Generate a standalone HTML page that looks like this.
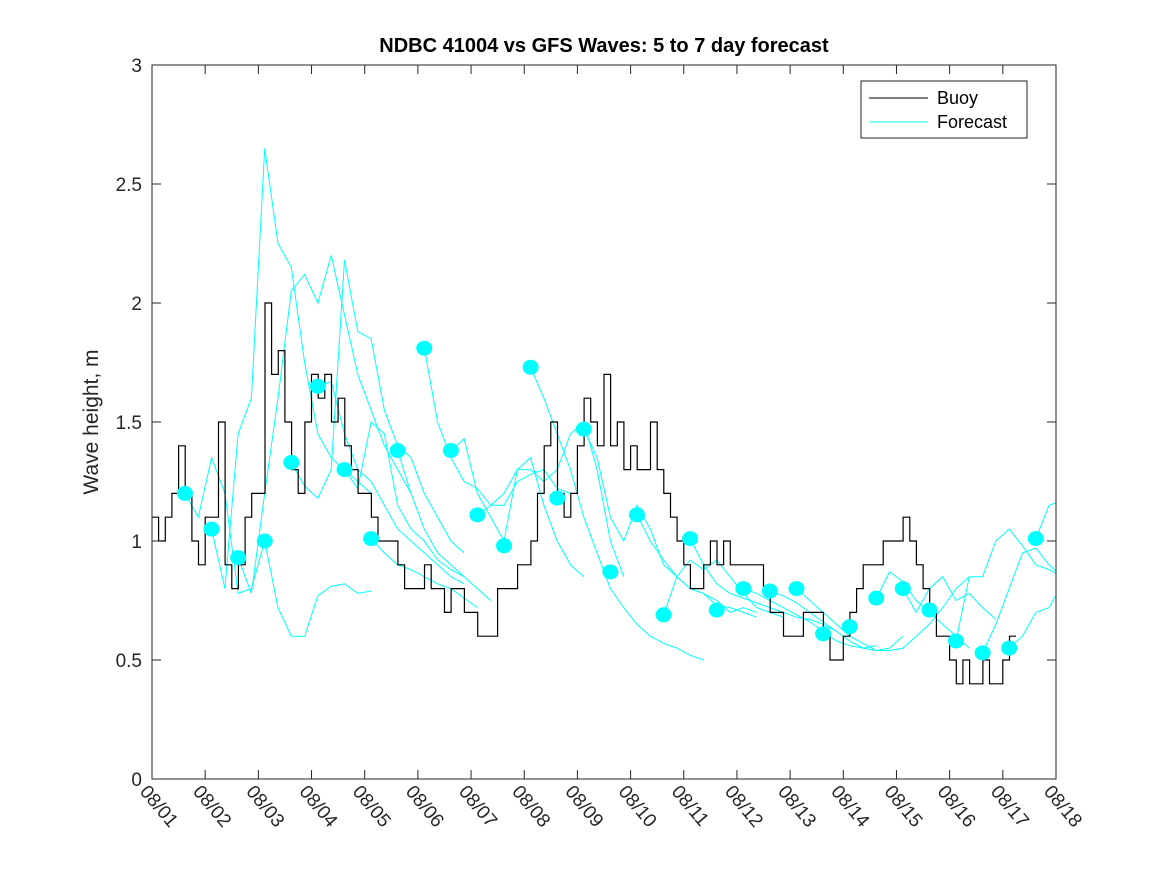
<!DOCTYPE html>
<html><head><meta charset="utf-8"><style>
body{margin:0;background:#fff;}
svg{display:block;font-family:"Liberation Sans","DejaVu Sans",sans-serif;}
</style></head><body>
<svg id="chart" width="1167" height="875" viewBox="0 0 1167 875" xmlns="http://www.w3.org/2000/svg">
<defs><clipPath id="pc"><rect x="152" y="65" width="904" height="714"/></clipPath></defs>
<rect width="1167" height="875" fill="#fff"/>
<text x="604" y="52" text-anchor="middle" font-size="20" font-weight="bold" fill="#000">NDBC 41004 vs GFS Waves: 5 to 7 day forecast</text>
<text transform="translate(98,422) rotate(-90)" text-anchor="middle" font-size="21" fill="#262626">Wave height, m</text>
<g id="plot" clip-path="url(#pc)"></g>
<g id="axes"></g>
<g>
<rect x="861" y="81" width="166" height="57" fill="#fff" stroke="#262626" stroke-width="1"/>
<line x1="869" y1="98" x2="928" y2="98" stroke="#000" stroke-width="1"/>
<text x="937" y="104" font-size="18" fill="#000">Buoy</text>
<line x1="869" y1="122" x2="928" y2="122" stroke="#00ffff" stroke-width="1"/>
<text x="937" y="128" font-size="18" fill="#000">Forecast</text>
</g>
</svg>
<script>
const xTickLabels=["08/01","08/02","08/03","08/04","08/05","08/06","08/07","08/08","08/09","08/10","08/11","08/12","08/13","08/14","08/15","08/16","08/17","08/18"];
const yTicks=[0,0.5,1,1.5,2,2.5,3];
const yTickLabels=["0","0.5","1","1.5","2","2.5","3"];
const buoyStep=0.125;
const buoyValues=[1.1,1.0,1.1,1.2,1.4,1.2,1.0,0.9,
1.1,1.1,1.5,0.9,0.8,0.9,1.1,1.2,
1.2,2.0,1.7,1.8,1.5,1.3,1.2,1.5,
1.7,1.6,1.7,1.5,1.6,1.4,1.3,1.2,
1.2,1.1,1.0,1.0,1.0,0.9,0.8,0.8,
0.8,0.9,0.8,0.8,0.7,0.8,0.8,0.7,
0.7,0.6,0.6,0.6,0.8,0.8,0.8,0.9,
0.9,1.0,1.2,1.4,1.5,1.2,1.1,1.2,
1.4,1.6,1.5,1.4,1.7,1.4,1.5,1.3,
1.4,1.3,1.3,1.5,1.3,1.2,1.1,1.0,
0.9,0.8,0.8,0.9,1.0,0.9,1.0,0.9,
0.9,0.9,0.9,0.9,0.8,0.7,0.7,0.6,
0.6,0.6,0.7,0.7,0.7,0.6,0.5,0.5,
0.6,0.7,0.8,0.9,0.9,0.9,1.0,1.0,
1.0,1.1,1.0,0.9,0.8,0.7,0.6,0.6,
0.5,0.4,0.5,0.4,0.4,0.5,0.4,0.4,
0.5,0.6];
const fcStep=0.25;
const fcStarts=[0.62,1.12,1.62,2.12,2.62,3.12,3.62,4.12,4.62,5.12,5.62,6.12,7.12,8.12,9.12,9.62,10.12,11.12,11.62,12.12,13.62,14.12,15.12,15.62,16.12,16.62];
const fcValues=[
[1.2,1.1,1.35,1.2,0.78,0.8,1.0],
[1.05,0.8,1.45,1.6,2.65,2.25,2.15,1.75,1.45,1.35,1.3,1.25,1.2],
[0.93,0.78,1.2,1.6,2.05,2.12,2.0,2.2,1.95,1.7,1.55,1.4,1.3,1.2],
[1.0,0.72,0.6,0.6,0.77,0.81,0.82,0.78,0.79],
[1.33,1.23,1.18,1.3,2.18,1.88,1.85,1.55,1.4,1.35,1.2,1.1,1.0,0.95],
[1.65,1.67,1.45,1.3,1.25,1.15,1.05,1.0,0.95,0.9,0.85,0.82],
[1.3,1.22,1.5,1.45,1.15,1.05,1.0,0.92,0.88,0.85],
[1.01,0.95,0.9,0.88,0.85,0.82,0.8,0.76,0.72],
[1.38,1.2,1.05,0.95,0.9,0.85,0.8,0.75],
[1.81,1.5,1.35,1.25,1.22,1.15,1.15,1.25,1.28,1.3,1.22,1.2],
[1.38,1.43,1.2,1.1,1.0,1.3,1.35,1.15,1.0,0.9,0.85],
[1.11,1.15,1.2,1.3,1.3,1.25,1.3,1.45,1.5,1.3,1.0,0.85],
[1.73,1.6,1.45,1.3,1.1,0.95,0.8,0.72,0.65,0.6,0.57,0.55,0.52,0.5],
[1.47,1.35,1.1,1.0,1.15,1.05,0.9,0.85,0.8,0.78,0.73,0.72,0.7,0.68],
[1.11,1.0,0.92,0.85,0.8,0.78,0.75,0.7,0.72,0.7],
[0.69,0.85,0.92,0.88,0.92,0.85,0.78,0.72,0.7,0.68],
[1.01,0.9,0.82,0.78,0.76,0.74,0.72,0.7,0.68,0.67,0.65,0.62],
[0.8,0.78,0.75,0.72,0.69,0.66,0.62,0.58,0.56,0.55,0.56],
[0.79,0.77,0.74,0.7,0.66,0.62,0.58,0.55,0.54,0.55,0.6],
[0.8,0.75,0.7,0.65,0.6,0.57,0.54,0.54,0.55,0.6,0.65,0.72,0.8,0.85],
[0.76,0.87,0.83,0.75,0.7,0.65,0.6,0.55],
[0.8,0.7,0.8,0.85,0.75,0.78,0.72,0.67],
[0.58,0.85,0.85,1.0,1.05,0.98,0.9,0.88,0.85,0.8,0.88],
[0.53,0.65,0.8,0.95,0.97,0.9,0.85],
[0.55,0.6,0.7,0.72,0.82,0.95,1.08,1.05,1.05],
[1.01,1.15,1.17,1.15]];
const dotStarts=[0.62,1.12,1.62,2.12,2.62,3.12,3.62,4.12,4.62,5.12,5.62,6.12,6.62,7.12,7.62,8.12,8.62,9.12,9.62,10.12,10.62,11.12,11.62,12.12,12.62,13.12,13.62,14.12,14.62,15.12,15.62,16.12,16.62];
const dotValues=[1.2,1.05,0.93,1.0,1.33,1.65,1.3,1.01,1.38,1.81,1.38,1.11,0.98,1.73,1.18,1.47,0.87,1.11,0.69,1.01,0.71,0.80,0.79,0.80,0.61,0.64,0.76,0.80,0.71,0.58,0.53,0.55,1.01];

const X0=152,X1=1056,Y0=779,Y1=65;
const xs=d=>X0+(X1-X0)*d/17;
const ys=v=>Y0-(Y0-Y1)*v/3;
const NS="http://www.w3.org/2000/svg";
const plot=document.getElementById('plot');
const axes=document.getElementById('axes');
function mk(tag,attrs,parent){const e=document.createElementNS(NS,tag);for(const k in attrs)e.setAttribute(k,attrs[k]);parent.appendChild(e);return e;}

fcValues.forEach((vals,i)=>{
  const pts=vals.map((v,j)=>xs(fcStarts[i]+j*fcStep).toFixed(1)+','+ys(v).toFixed(1)).join(' ');
  const p=mk('polyline',{points:pts,fill:'none',stroke:'#00ffff','stroke-width':1},plot);
  
  
});
let d='';
buoyValues.forEach((v,i)=>{
  const x=xs(i*buoyStep),y=ys(v);
  if(i===0)d+='M'+x.toFixed(1)+','+y.toFixed(1);
  else d+='V'+y.toFixed(1);
  d+='H'+xs((i+1)*buoyStep).toFixed(1);
});
const bl=mk('path',{d:d,fill:'none',stroke:'#000','stroke-width':1.2},plot);


dotValues.forEach((v,i)=>{
  const c=mk('ellipse',{cx:xs(dotStarts[i]),cy:ys(v),rx:8,ry:7.5,fill:'#00ffff'},plot);
  
  
});
const box=mk('rect',{x:X0,y:Y1,width:X1-X0,height:Y0-Y1,fill:'none',stroke:'#262626','stroke-width':1},axes);


yTicks.forEach((t,i)=>{
  const y=ys(t);
  mk('line',{x1:X0,y1:y,x2:X0+9,y2:y,stroke:'#262626'},axes);
  mk('line',{x1:X1,y1:y,x2:X1-9,y2:y,stroke:'#262626'},axes);
  const tx=mk('text',{x:X0-10,y:y+7,'text-anchor':'end','font-size':19,fill:'#262626'},axes);
  tx.textContent=yTickLabels[i];
  
  
});
xTickLabels.forEach((lab,i)=>{
  const x=xs(i);
  mk('line',{x1:x,y1:Y0,x2:x,y2:Y0-9,stroke:'#262626'},axes);
  mk('line',{x1:x,y1:Y1,x2:x,y2:Y1+9,stroke:'#262626'},axes);
  const tx=mk('text',{transform:'translate('+(x-13)+','+(Y0+13)+') rotate(50)','font-size':19,fill:'#262626'},axes);
  tx.textContent=lab;
  
  
});
</script>
</body></html>
